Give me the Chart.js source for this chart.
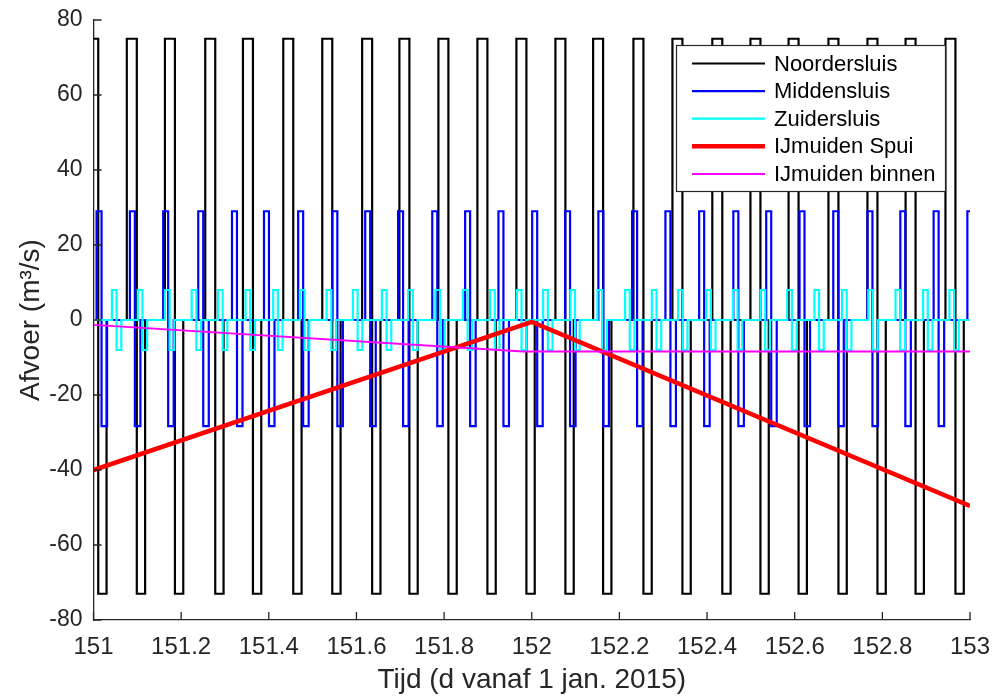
<!DOCTYPE html>
<html>
<head>
<meta charset="utf-8">
<script src="https://cdn.jsdelivr.net/npm/chart.js@4.4.1/dist/chart.umd.min.js"></script>
<style>
  body { margin: 0; background: #fff; }
  #wrap { width: 993px; height: 697px; }
</style>
</head>
<body>
<div id="wrap"><canvas id="myChart" width="993" height="697"></canvas></div>
<script>
// tick labels
const xTicks = [151, 151.2, 151.4, 151.6, 151.8, 152, 152.2, 152.4, 152.6, 152.8, 153];
const yTicks = [-80, -60, -40, -20, 0, 20, 40, 60, 80];

const seriesNames = ["Noordersluis", "Middensluis", "Zuidersluis", "IJmuiden Spui", "IJmuiden binnen"];

// Noordersluis: times (day) where the flow jumps up, then high / low phase lengths
const noordUp = [150.988, 151.076, 151.163, 151.255, 151.341, 151.433, 151.522, 151.613, 151.698,
  151.787, 151.876, 151.965, 152.054, 152.140, 152.232, 152.321, 152.412, 152.499, 152.586,
  152.677, 152.766, 152.853, 152.944];
const noordLevels = [75, -73];
const noordDur = [0.0228, 0.019];

// Middensluis
const middenUp = [151.007, 151.083, 151.159, 151.239, 151.316, 151.389, 151.467, 151.545, 151.620,
  151.695, 151.773, 151.848, 151.924, 152.001, 152.076, 152.152, 152.229, 152.305, 152.382,
  152.460, 152.535, 152.611, 152.688, 152.766, 152.841, 152.917, 152.994];
const middenLevels = [29, -28.3];
const middenDur = [0.0114, 0.0126];

// Zuidersluis
const zuiderUp = [151.042, 151.101, 151.163, 151.224, 151.284, 151.347, 151.410, 151.471, 151.532,
  151.592, 151.658, 151.718, 151.780, 151.843, 151.905, 151.966, 152.026, 152.088, 152.150,
  152.213, 152.274, 152.334, 152.398, 152.459, 152.522, 152.583, 152.645, 152.708, 152.768,
  152.830, 152.893, 152.953];
const zuiderLevels = [8, -8];
const zuiderDur = [0.0107, 0.0107];

// IJmuiden Spui
const spuiT = [151, 152, 153];
const spuiQ = [-40, -0.5, -49.6];

// IJmuiden binnen
const binnenT = [151, 151.98, 153];
const binnenQ = [-1.3, -8.4, -8.4];

function pulses(ups, levels, dur) {
  const pts = [];
  if (ups[0] > 151) pts.push({ x: 151, y: 0 });
  ups.forEach((t) => {
    const t1 = t + dur[0];
    const t2 = t1 + dur[1];
    pts.push({ x: t, y: 0 }, { x: t, y: levels[0] }, { x: t1, y: levels[0] },
      { x: t1, y: levels[1] }, { x: t2, y: levels[1] }, { x: t2, y: 0 });
  });
  pts.push({ x: 153, y: 0 });
  return pts;
}

const zip = (xs, ys) => xs.map((x, i) => ({ x: x, y: ys[i] }));

const axisColor = "#262626";
const fontFam = "'Liberation Sans', Arial, Helvetica, sans-serif";

// inward tick marks (MATLAB style)
const inwardTicks = {
  id: "inwardTicks",
  afterDatasetsDraw(chart) {
    const { ctx, chartArea, scales } = chart;
    ctx.save();
    ctx.strokeStyle = axisColor;
    ctx.lineWidth = 1.3;
    ctx.beginPath();
    xTicks.forEach((v) => {
      const px = scales.x.getPixelForValue(v);
      ctx.moveTo(px, chartArea.bottom);
      ctx.lineTo(px, chartArea.bottom - 8);
    });
    yTicks.forEach((v) => {
      const py = scales.y.getPixelForValue(v);
      ctx.moveTo(chartArea.left, py);
      ctx.lineTo(chartArea.left + 8, py);
    });
    ctx.stroke();
    ctx.restore();
  },
};

// legend box inside the plot, upper right
const boxLegend = {
  id: "boxLegend",
  afterDraw(chart) {
    const { ctx } = chart;
    const x0 = 676.5, y0 = 45.5, w = 269, h = 146;
    ctx.save();
    ctx.fillStyle = "#fff";
    ctx.fillRect(x0, y0, w, h);
    ctx.strokeStyle = axisColor;
    ctx.lineWidth = 1.2;
    ctx.strokeRect(x0, y0, w, h);
    ctx.font = "22px " + fontFam;
    ctx.textBaseline = "middle";
    ctx.fillStyle = "#000";
    chart.data.datasets.forEach((ds, i) => {
      const y = 63.5 + i * 27.6;
      ctx.strokeStyle = ds.borderColor;
      ctx.lineWidth = ds.borderWidth;
      ctx.beginPath();
      ctx.moveTo(692, y);
      ctx.lineTo(765, y);
      ctx.stroke();
      ctx.fillText(ds.label, 774, y + 1);
    });
    ctx.restore();
  },
};

const ctx = document.getElementById("myChart").getContext("2d");
new Chart(ctx, {
  type: "scatter",
  data: {
    datasets: [
      { label: seriesNames[0], data: pulses(noordUp, noordLevels, noordDur), borderColor: "#000000", borderWidth: 2.2, order: 5 },
      { label: seriesNames[1], data: pulses(middenUp, middenLevels, middenDur), borderColor: "#0000ff", borderWidth: 2.2, order: 4 },
      { label: seriesNames[2], data: pulses(zuiderUp, zuiderLevels, zuiderDur), borderColor: "#00ffff", borderWidth: 2.2, order: 3 },
      { label: seriesNames[3], data: zip(spuiT, spuiQ), borderColor: "#ff0000", borderWidth: 4.5, order: 2 },
      { label: seriesNames[4], data: zip(binnenT, binnenQ), borderColor: "#ff00ff", borderWidth: 2, order: 1 },
    ].map((d) => Object.assign(d, { showLine: true, pointRadius: 0, fill: false, tension: 0 })),
  },
  options: {
    responsive: false,
    animation: false,
    events: [],
    layout: { padding: { top: 20, right: 23, left: 0, bottom: 0 } },
    plugins: { legend: { display: false }, tooltip: { enabled: false } },
    scales: {
      x: {
        type: "linear",
        min: 151,
        max: 153,
        afterBuildTicks: (s) => { s.ticks = xTicks.map((v) => ({ value: v })); },
        afterFit: (s) => {
          s.height = 77;
          s.paddingLeft = 0; s.paddingRight = 0; s.paddingTop = 0; s.paddingBottom = 0;
        },
        ticks: {
          callback: (v) => String(Math.round(v * 10) / 10),
          font: { family: fontFam, size: 24 },
          color: axisColor,
          padding: 13,
          maxRotation: 0,
          autoSkip: false,
        },
        grid: { display: false, drawTicks: false },
        border: { color: axisColor, width: 1.3 },
        title: {
          display: true,
          text: "Tijd (d vanaf 1 jan. 2015)",
          font: { family: fontFam, size: 28 },
          color: axisColor,
          padding: { top: 0, bottom: 0 },
        },
      },
      y: {
        type: "linear",
        min: -80,
        max: 80,
        afterBuildTicks: (s) => { s.ticks = yTicks.map((v) => ({ value: v })); },
        afterFit: (s) => {
          s.width = 93.5;
          s.paddingLeft = 0; s.paddingRight = 0; s.paddingTop = 0; s.paddingBottom = 0;
        },
        ticks: {
          font: { family: fontFam, size: 23 },
          color: axisColor,
          padding: 11,
          autoSkip: false,
        },
        grid: { display: false, drawTicks: false },
        border: { color: axisColor, width: 1.3 },
        title: {
          display: true,
          text: "Afvoer (m³/s)",
          font: { family: fontFam, size: 28 },
          color: axisColor,
          padding: { top: 14, bottom: 4 },
        },
      },
    },
  },
  plugins: [inwardTicks, boxLegend],
});
</script>
</body>
</html>
